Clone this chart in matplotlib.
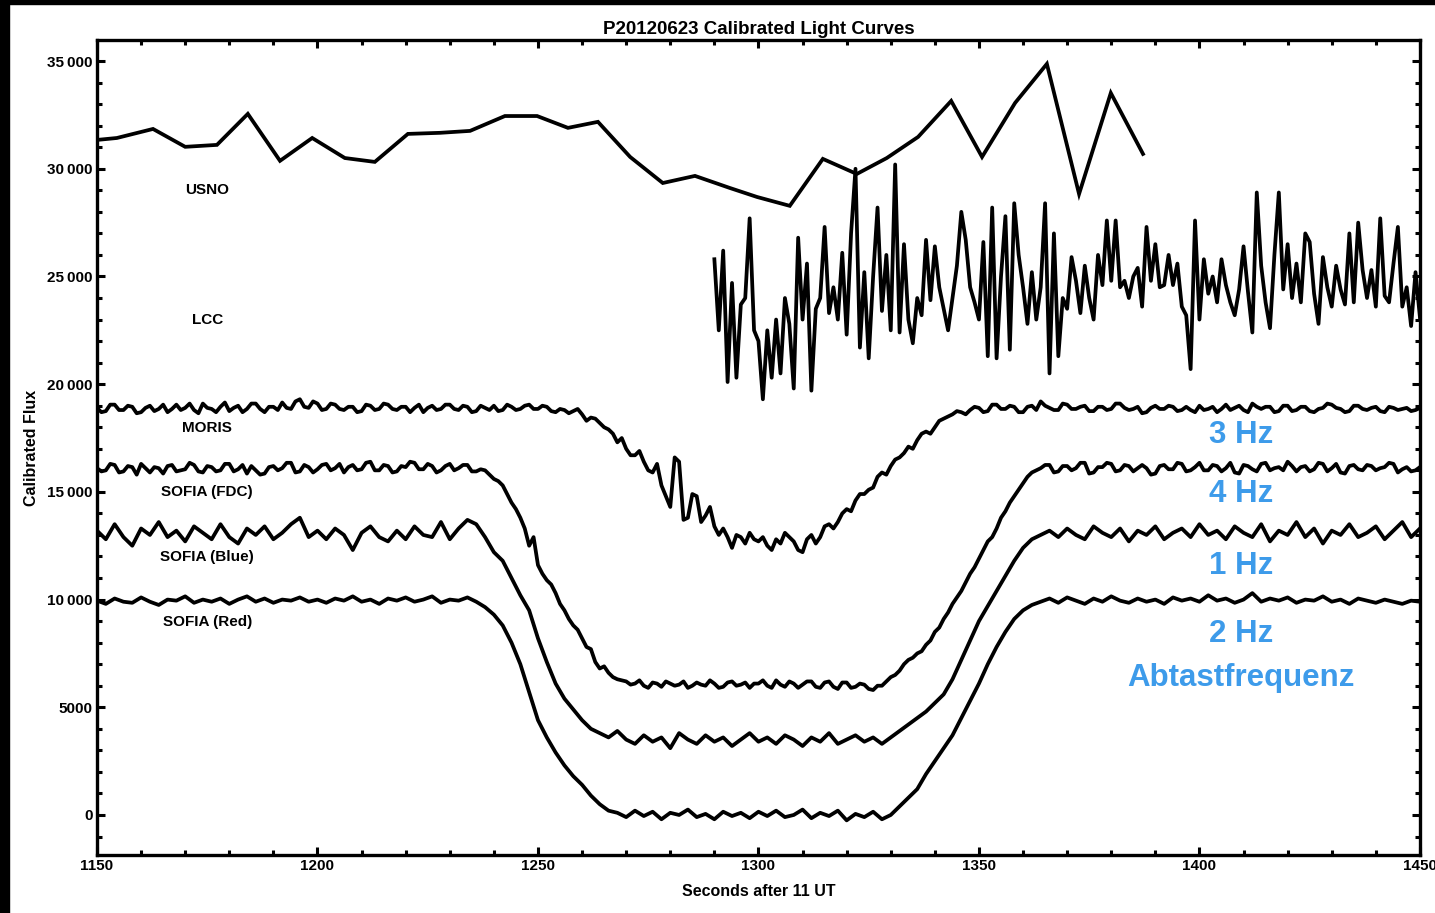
import numpy as np
import matplotlib
matplotlib.use("Agg")
import matplotlib.pyplot as plt
from matplotlib.ticker import MultipleLocator, FuncFormatter
from matplotlib.patches import Rectangle

plt.rcParams['font.family'] = ['Liberation Sans', 'DejaVu Sans']
plt.rcParams['font.weight'] = 'bold'
plt.rcParams['axes.titleweight'] = 'bold'
plt.rcParams['axes.labelweight'] = 'bold'

# USNO: sparse samples (seconds after 11 UT, flux)
usno_t = [1150, 1154.5, 1162.7, 1170.0, 1177.2, 1184.2, 1191.5, 1198.8, 1206.2, 1213.0,
          1220.5, 1227.8, 1234.6, 1242.5, 1249.8, 1256.8, 1263.6, 1270.9, 1278.3, 1285.6,
          1293.5, 1299.7, 1307.1, 1314.6, 1322.3, 1329.1, 1336.2, 1343.7, 1350.7, 1358.2,
          1365.4, 1372.7, 1379.9, 1387.2]
usno_flux = [31340, 31430, 31850, 31020, 31110, 32550, 30370, 31430, 30500, 30320,
             31620, 31670, 31760, 32450, 32450, 31900, 32180, 30550, 29340, 29670,
             29110, 28690, 28280, 30460, 29760, 30500, 31480, 33150, 30550, 33060,
             34870, 28830, 33520, 30690]

# LCC: 1 s samples from 1290 to 1450
lcc_start = 1290
lcc_flux = [25800, 22500, 26200, 20100, 24700, 20300, 23700, 24000, 27700, 22500,
            22000, 19300, 22500, 20300, 23000, 20500, 24000, 22800, 19800, 26800,
            23000, 25600, 19700, 23500, 24000, 27300, 23300, 24500, 23000, 26100,
            22300, 27000, 30000, 21700, 25200, 21200, 25000, 28200, 23400, 26000,
            22500, 30200, 22400, 26500, 23000, 21900, 24000, 23200, 26700, 23900,
            26400, 24500, 23500, 22500, 24000, 25500, 28000, 26700, 24500, 23800,
            23000, 26600, 21300, 28200, 21200, 25000, 27800, 21600, 28400, 26000,
            24500, 22800, 25200, 23000, 24500, 28400, 20500, 27000, 21300, 24000,
            23500, 25900, 24800, 23300, 25500, 24000, 23000, 26000, 24600, 27600,
            24800, 27600, 24500, 24800, 24000, 25000, 25400, 23600, 27300, 24800,
            26500, 24500, 24600, 26000, 24600, 25600, 23600, 23200, 20700, 27600,
            23000, 25800, 24200, 25000, 23800, 25800, 24600, 23800, 23200, 24400,
            26400, 24300, 22400, 28900, 25500, 23800, 22600, 26000, 28900, 24400,
            26500, 24000, 25600, 23800, 27000, 26600, 24200, 22800, 25900, 24500,
            23600, 25500, 24400, 23700, 27000, 23800, 27500, 25300, 24000, 25300,
            23600, 27700, 24100, 23800, 25600, 27300, 23600, 24500, 22700, 25200,
            23100]

# MORIS and SOFIA (FDC): 1 s samples from 1150 to 1450
moris_flux = [18900, 18700, 18750, 19050, 19050, 18800, 18800, 19000, 18950, 18650,
              18700, 18900, 19000, 18750, 18850, 19050, 18700, 18850, 19050, 18800,
              18900, 19100, 18800, 18650, 19100, 18900, 18850, 18700, 18950, 19150,
              18750, 18900, 19000, 18700, 18850, 19100, 19100, 18850, 18700, 18950,
              18950, 18800, 19150, 18900, 18850, 19200, 19300, 18950, 18900, 19200,
              19100, 18800, 18850, 19100, 19050, 18850, 18800, 18950, 18950, 18700,
              18750, 19050, 19000, 18800, 18850, 19100, 19050, 18850, 18800, 18950,
              18950, 18700, 18900, 19050, 18700, 18900, 19000, 18800, 18850, 19050,
              19050, 18850, 18800, 19000, 18950, 18700, 18750, 19000, 18900, 18800,
              19000, 18750, 18800, 19050, 18950, 18800, 18850, 19000, 19050, 18850,
              18850, 19000, 18950, 18750, 18700, 18850, 18800, 18650, 18750, 18850,
              18600, 18300, 18450, 18400, 18200, 18000, 17900, 17700, 17300, 17500,
              17000, 16700, 16700, 16900, 16400, 16000, 15900, 16300, 15300, 14800,
              14300, 16600, 16400, 13700, 13800, 14900, 14800, 13600, 13900, 14300,
              13400, 13000, 13300, 12900, 12400, 13000, 12900, 12600, 13100, 12800,
              12700, 12900, 12500, 12300, 12800, 12600, 13100, 12900, 12700, 12300,
              12200, 12800, 13000, 12600, 12900, 13400, 13500, 13300, 13600, 14000,
              14200, 14100, 14600, 14900, 14900, 15100, 15200, 15700, 15900, 15800,
              16200, 16500, 16600, 16800, 17100, 17000, 17400, 17700, 17800, 17700,
              18000, 18300, 18400, 18500, 18600, 18750, 18700, 18600, 18800, 18950,
              18900, 18700, 18750, 19050, 19050, 18850, 18850, 19000, 18950, 18700,
              18700, 18950, 19000, 18800, 19200, 19000, 18900, 18800, 18800, 19100,
              19050, 18850, 18850, 18950, 19000, 18750, 18750, 18950, 18950, 18800,
              18850, 19100, 19100, 18900, 18800, 18850, 18950, 18650, 18700, 18900,
              19000, 18850, 18850, 19000, 18950, 18750, 18800, 18950, 18800, 18700,
              19000, 18800, 18850, 18950, 18700, 18850, 19050, 18800, 18900, 19000,
              18800, 18700, 19100, 18950, 18850, 18950, 18950, 18700, 18750, 19000,
              19000, 18750, 18800, 18950, 18950, 18750, 18700, 18850, 18900, 19100,
              19050, 18900, 18850, 18700, 18750, 19000, 19000, 18850, 18800, 18900,
              18950, 18750, 18700, 18950, 18900, 18800, 18850, 18900, 18750, 18800,
              18900]

fdc_flux = [16100, 15950, 16000, 16300, 16250, 15900, 15950, 16200, 16150, 15800,
            16300, 16100, 15900, 16150, 16100, 15850, 16200, 16250, 15950, 16000,
            16050, 16350, 16250, 15950, 15900, 16200, 16150, 15950, 16000, 16300,
            16300, 15950, 16050, 16250, 15850, 16200, 16000, 15800, 15850, 16150,
            16200, 16000, 16100, 16350, 16350, 15900, 15950, 16250, 16150, 15900,
            16050, 16250, 16300, 16000, 16100, 16300, 15900, 16150, 16250, 16000,
            16050, 16350, 16400, 16000, 16000, 16250, 16200, 15900, 15950, 16200,
            16150, 16400, 16350, 16050, 16050, 16300, 16200, 15900, 16000, 16200,
            16300, 16000, 16100, 16250, 16250, 15950, 15950, 16050, 16000, 15800,
            15600, 15500, 15300, 14900, 14500, 14200, 13800, 13300, 12500, 12900,
            11600, 11200, 10900, 10700, 10300, 9800, 9500, 9100, 8800, 8600,
            8200, 7800, 7700, 7100, 6800, 6900, 6600, 6400, 6300, 6250,
            6200, 6050, 6100, 6250, 6000, 5900, 6150, 6100, 5950, 6200,
            6100, 6000, 6050, 6200, 5900, 6000, 6150, 6050, 6000, 6250,
            6100, 5900, 5950, 6150, 6200, 6000, 6050, 6150, 5900, 6100,
            6100, 6250, 6000, 5900, 6250, 6050, 5950, 6200, 6100, 5900,
            6050, 6200, 6200, 5950, 5900, 6150, 6200, 5950, 5850, 6150,
            6150, 5900, 5950, 6100, 6050, 5850, 5800, 6000, 6000, 6200,
            6400, 6500, 6700, 7000, 7200, 7300, 7500, 7600, 7900, 8100,
            8500, 8700, 9100, 9400, 9800, 10100, 10400, 10800, 11200, 11500,
            11900, 12300, 12700, 12900, 13300, 13800, 14100, 14500, 14800, 15100,
            15400, 15700, 15900, 16000, 16100, 16250, 16250, 15900, 15950, 16200,
            16200, 16000, 16100, 16350, 16350, 15850, 15900, 16150, 16150, 16350,
            16300, 15950, 16000, 16250, 16200, 15950, 16100, 16250, 16100, 15800,
            15850, 16200, 16250, 16050, 16050, 16350, 16300, 15950, 16000, 16150,
            16350, 16000, 16000, 16250, 16200, 15950, 16100, 16350, 15900, 15850,
            16250, 16200, 16050, 15950, 16300, 16350, 16000, 16100, 16150, 16000,
            16400, 16200, 15950, 16150, 16200, 15950, 16050, 16350, 16300, 15950,
            16100, 16300, 15900, 15850, 16200, 16250, 16050, 16000, 16250, 16200,
            16000, 16100, 16150, 16350, 16300, 15900, 16050, 16150, 15950, 16000,
            16150]

# SOFIA (Blue) and SOFIA (Red): 2 s samples from 1150 to 1450
blue_flux = [13200, 12800, 13500, 12900, 12500, 13300, 13000, 13600, 12900, 13200,
             12700, 13400, 13100, 12800, 13500, 12900, 12600, 13300, 13000, 13400,
             12800, 13100, 13500, 13800, 12900,
             13200, 12800, 13300, 13000, 12300, 13100, 13400, 12900, 12700, 13200,
             12800, 13400, 13000, 12900, 13600, 12800, 13300, 13700, 13500, 12900,
             12200, 11800, 11000, 10200, 9500,
             8200, 7100, 6100, 5400, 4900, 4400, 4000, 3800, 3600, 3900,
             3500, 3300, 3700, 3400, 3600, 3100, 3800, 3500, 3300, 3700,
             3400, 3600, 3200, 3500, 3800,
             3400, 3600, 3300, 3700, 3500, 3200, 3600, 3400, 3800, 3300,
             3500, 3700, 3400, 3600, 3300, 3600, 3900, 4200, 4500, 4800,
             5200, 5600, 6300, 7200, 8100,
             9000, 9700, 10400, 11100, 11800, 12400, 12800, 13000, 13200, 12900,
             13300, 13000, 12800, 13400, 13100, 12900, 13300, 12700, 13200, 13000,
             13400, 12800, 13100, 13300, 12900,
             13500, 13000, 13200, 12800, 13400, 13100, 12900, 13500, 12700, 13200,
             13000, 13600, 12900, 13300, 12600, 13200, 13000, 13500, 12900, 13100,
             13400, 12800, 13200, 13600, 12900,
             13300]

red_flux = [9950, 9800, 10050, 9900, 9850, 10100, 9900, 9750, 10000, 9950,
            10150, 9850, 10000, 9900, 10050, 9800, 10000, 10150, 9900, 10050,
            9850, 10000, 9950, 10100, 9900,
            10000, 9850, 10050, 9950, 10150, 9900, 10000, 9800, 10050, 9950,
            10100, 9900, 10000, 10150, 9850, 10000, 9950, 10100, 9900, 9650,
            9300, 8800, 8000, 7000, 5700,
            4400, 3600, 2900, 2300, 1800, 1400, 900, 500, 200, 100,
            -100, 200, -50, 150, -200, 100, 0, 250, -100, 50,
            -200, 150, -50, 100, -150,
            150, -50, 200, -100, 0, 250, -150, 100, -50, 200,
            -250, 50, -100, 150, -200, 0, 400, 800, 1200, 1900,
            2500, 3100, 3700, 4500, 5300,
            6100, 7000, 7800, 8500, 9100, 9500, 9750, 9900, 10050, 9850,
            10100, 9950, 9800, 10050, 9900, 10150, 9950, 9850, 10050, 9900,
            10000, 9800, 10100, 9950, 10050,
            9900, 10200, 9950, 10050, 9850, 10000, 10300, 9900, 10050, 9950,
            10100, 9850, 10000, 9950, 10150, 9900, 10000, 9800, 10050, 9950,
            9850, 10000, 9900, 9800, 9950,
            9900]

curve_labels = ["USNO", "LCC", "MORIS", "SOFIA (FDC)", "SOFIA (Blue)", "SOFIA (Red)"]
label_y = [29020, 22980, 17970, 15000, 11980, 8960]
label_x = 1175

rate_labels = ["3 Hz", "4 Hz", "1 Hz", "2 Hz", "Abtastfrequenz"]
rate_y = [17640, 14900, 11560, 8400, 6360]
rate_x = 1409.5
rate_color = "#3d9bea"


def flux_fmt(v, pos):
    v = int(round(v))
    if abs(v) >= 10000:
        return "{:,}".format(v).replace(",", "\u2009")
    return str(v)


fig = plt.figure(figsize=(14.35, 9.13), dpi=100)
ax = fig.add_axes([0.0676, 0.0635, 0.9219, 0.8927])

lw = 2.7
ax.plot(usno_t, usno_flux, color="black", lw=lw, solid_joinstyle="miter")
lcc_t = lcc_start + np.arange(len(lcc_flux))
ax.plot(lcc_t, lcc_flux, color="black", lw=lw)

t1 = 1150 + np.arange(len(moris_flux))
t2 = 1150 + 2 * np.arange(len(blue_flux))
ax.plot(t1, moris_flux, color="black", lw=lw)
ax.plot(t1, fdc_flux, color="black", lw=lw)
ax.plot(t2, blue_flux, color="black", lw=lw)
ax.plot(t2, red_flux, color="black", lw=lw)

for name, y in zip(curve_labels, label_y):
    ax.text(label_x, y, name, ha="center", va="center", fontsize=11)

for name, y in zip(rate_labels, rate_y):
    ax.text(rate_x, y, name, ha="center", va="center", fontsize=22.5,
            fontweight="bold", color=rate_color)

ax.set_xlim(1150, 1450)
ax.set_ylim(-1860, 35980)
ax.xaxis.set_major_locator(MultipleLocator(50))
ax.xaxis.set_minor_locator(MultipleLocator(10))
ax.yaxis.set_major_locator(MultipleLocator(5000))
ax.yaxis.set_minor_locator(MultipleLocator(1000))
ax.yaxis.set_major_formatter(FuncFormatter(flux_fmt))
ax.tick_params(which="both", direction="in", top=True, right=True, width=2.2,
               labelsize=11, pad=3)
ax.tick_params(which="major", length=6)
ax.tick_params(which="minor", length=3.5)
for s in ax.spines.values():
    s.set_linewidth(2.4)

ax.set_title("P20120623 Calibrated Light Curves", fontsize=13.5, pad=4)
ax.set_xlabel("Seconds after 11 UT", fontsize=11.5, labelpad=8)
ax.set_ylabel("Calibrated Flux", fontsize=11.5, labelpad=6)

# black strips along the left and top of the image
fig.patches.append(Rectangle((0, 0), 9 / 1435, 1, transform=fig.transFigure,
                             color="black", zorder=10))
fig.patches.append(Rectangle((0, 1 - 4 / 913), 1, 4 / 913, transform=fig.transFigure,
                             color="black", zorder=10))

fig.savefig("out.png", dpi=100)
